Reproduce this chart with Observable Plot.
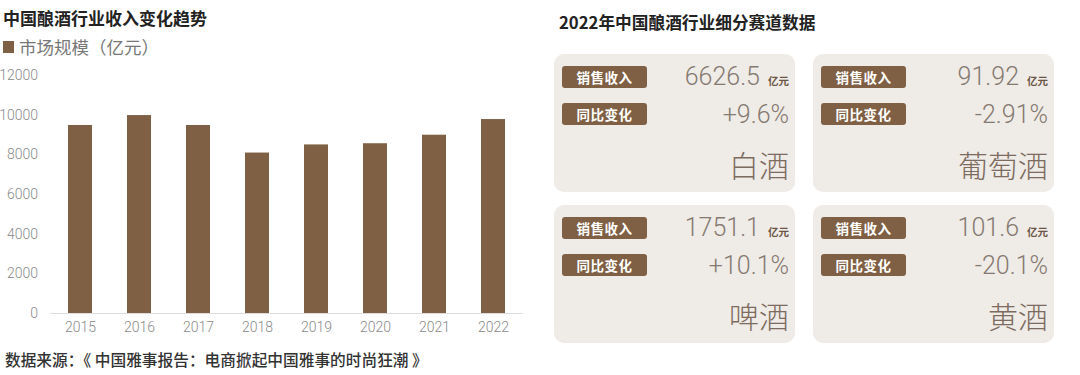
<!DOCTYPE html>
<html><head><meta charset="utf-8">
<script src="https://cdn.jsdelivr.net/npm/d3@7"></script>
<script src="https://cdn.jsdelivr.net/npm/@observablehq/plot@0.6"></script>
<style>
body{margin:0;width:1080px;height:375px;background:#fff;position:relative;overflow:hidden;font-family:"Noto Sans CJK SC","Noto Sans",sans-serif;}
.title{position:absolute;font-weight:700;color:#222;line-height:22px;white-space:nowrap;}
#legend{position:absolute;left:3px;top:35px;font-size:17.5px;color:#777;line-height:24px;display:flex;align-items:center;white-space:nowrap;}
#legend .sw{width:11px;height:12px;margin-right:5px;display:inline-block;}
#chart{position:absolute;left:0;top:60px;}
#footer{position:absolute;left:5px;top:349px;font-size:15.7px;color:#333;line-height:22px;font-weight:500;white-space:pre;}
.card{position:absolute;width:241px;height:138px;background:#efebe7;border-radius:10px;}
.pill{position:absolute;left:8px;width:85px;height:22px;border-radius:3px;color:#fff;font-size:13.5px;font-weight:700;line-height:22px;text-align:center;letter-spacing:0.5px;}
.val{position:absolute;right:6px;font-family:"Roboto","Noto Sans",sans-serif;font-weight:300;font-size:25px;line-height:25px;color:#857a71;white-space:nowrap;}
.unit{font-family:"Noto Sans CJK SC",sans-serif;font-weight:700;font-size:10.5px;color:#6b5544;margin-left:8px;}
.name{position:absolute;right:6px;top:95px;font-size:30px;line-height:30px;font-weight:300;color:#7c6b5e;white-space:nowrap;}
</style>
</head><body>
<div class="title" style="left:3px;top:7px;font-size:17px;">中国酿酒行业收入变化趋势</div>
<div id="legend"><span class="sw"></span><span id="legtext"></span></div>
<div id="chart"></div>
<div id="footer">数据来源：《 中国雅事报告：电商掀起中国雅事的时尚狂潮 》</div>
<div class="title" style="left:559px;top:11px;font-size:16.7px;">2022年中国酿酒行业细分赛道数据</div>
<div id="cards"></div>
<script>
// ---- data ----
const years = ["2015","2016","2017","2018","2019","2020","2021","2022"];
const revenue = [9480, 9980, 9480, 8090, 8500, 8560, 8990, 9780];
const yTicks = [0, 2000, 4000, 6000, 8000, 10000, 12000];
const seriesName = "市场规模（亿元）";
const segments = ["白酒", "葡萄酒", "啤酒", "黄酒"];
const segRevenue = ["6626.5", "91.92", "1751.1", "101.6"];
const segChange = ["+9.6%", "-2.91%", "+10.1%", "-20.1%"];
const revenueLabel = "销售收入";
const changeLabel = "同比变化";
const unitLabel = "亿元";

const brown = "#7f6044";

document.getElementById("legtext").textContent = seriesName;
document.querySelector("#legend .sw").style.background = brown;

const data = years.map((y, i) => ({year: y, value: revenue[i]}));

const chart = Plot.plot({
  width: 530,
  height: 285,
  marginTop: 15,
  marginBottom: 32,
  marginLeft: 50.5,
  marginRight: 7.5,
  x: {domain: years, paddingInner: 0.59, paddingOuter: 0.295, label: null, tickSize: 0, tickPadding: 9},
  y: {domain: [0, 12000], ticks: yTicks, label: null, tickSize: 0, tickPadding: 13, tickFormat: d => String(d)},
  style: {fontFamily: "Roboto, 'Noto Sans', sans-serif", fontSize: "14px", color: "#8a8a8a", fontWeight: 300, background: "transparent"},
  marks: [
    Plot.barY(data, {x: "year", y: "value", fill: brown}),
    Plot.ruleY([0], {stroke: "#dcdcdc", strokeWidth: 1})
  ]
});
document.getElementById("chart").appendChild(chart);

// ---- cards ----
const lefts = [554, 813];
const tops = [54, 205];
const cards = document.getElementById("cards");
segments.forEach((s, i) => {
  const c = document.createElement("div");
  c.className = "card";
  c.style.left = lefts[i % 2] + "px";
  c.style.top = tops[Math.floor(i / 2)] + "px";
  c.innerHTML = `
    <div class="pill" style="top:12px;background:${brown}">${revenueLabel}</div>
    <div class="pill" style="top:49px;background:${brown}">${changeLabel}</div>
    <div class="val" style="top:10px">${segRevenue[i]}<span class="unit">${unitLabel}</span></div>
    <div class="val" style="top:48px">${segChange[i]}</div>
    <div class="name">${s}</div>`;
  cards.appendChild(c);
});
</script>
</body></html>
